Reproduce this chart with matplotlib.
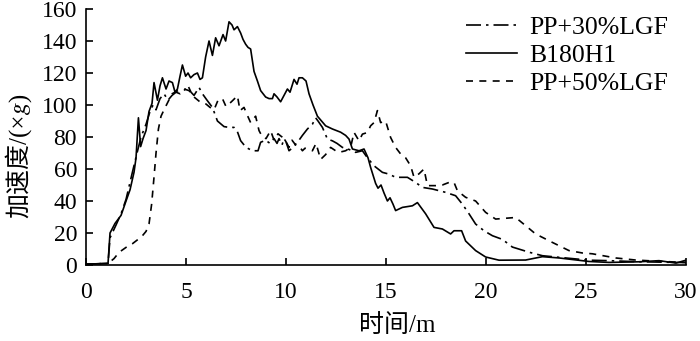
import matplotlib
matplotlib.use("Agg")
import matplotlib.pyplot as plt

plt.rcParams['font.family'] = ['Liberation Serif', 'Noto Sans CJK SC', 'STIXGeneral', 'DejaVu Sans']

# ---------------- data ----------------
b180h1_x = [0, 1.1, 1.2, 1.45, 1.75, 2.0, 2.2, 2.4, 2.5, 2.62,
            2.73, 2.85, 3.0, 3.15, 3.3, 3.4, 3.57, 3.7, 3.82, 4.0,
            4.15, 4.32, 4.45, 4.57, 4.7, 4.82, 4.98, 5.1, 5.23, 5.4,
            5.57, 5.7, 5.82, 5.98, 6.15, 6.32, 6.48, 6.65, 6.85, 6.98,
            7.15, 7.3, 7.4, 7.57, 7.73, 7.85, 7.98, 8.1, 8.23, 8.4,
            8.57, 8.73, 8.98, 9.15, 9.32, 9.4, 9.55, 9.73, 9.9, 10.07,
            10.2, 10.4, 10.55, 10.65, 10.82, 11.0, 11.15, 11.35, 11.57, 11.98,
            12.32, 12.73, 12.98, 13.15, 13.32, 13.65, 13.9, 14.1, 14.23, 14.48,
            14.6, 14.75, 14.9, 15.07, 15.2, 15.35, 15.48, 15.82, 16.32, 16.57,
            16.98, 17.4, 17.82, 18.23, 18.4, 18.78, 18.98, 19.48, 19.98, 20.65,
            21.98, 22.82, 23.65, 25.15, 26.15, 27.65, 28.65, 29.5, 30.0]
b180h1_y = [0.5, 1, 20, 26, 31, 40, 47, 58, 67, 92,
            74, 79, 84, 96, 101, 114, 103, 112, 117, 110,
            115, 114, 108, 110, 118, 125, 118, 120, 117, 119,
            120, 116, 117, 130, 140, 131, 142, 137, 144, 140,
            152, 150, 147, 149, 145, 141, 138, 136, 135, 121,
            115, 109, 105, 104, 104, 107, 105, 102, 106, 110,
            108, 116, 113, 117, 117, 115, 107, 100, 93, 87,
            85, 83, 81, 78.7, 72.5, 71.4, 72.5, 67, 61, 51,
            48, 50, 45, 40, 42, 38, 34, 36, 37, 39,
            32, 23.5, 22.5, 19.4, 21.4, 21.4, 15, 9, 5, 3,
            3.1, 5.2, 4.4, 2.2, 1.6, 2, 2.7, 1.2, 3]

pp30_x = [0, 1.1, 1.2, 1.5, 1.75, 2.0, 2.3, 2.55, 2.75, 3.0,
          3.2, 3.35, 3.5, 3.7, 3.9, 4.1, 4.3, 4.5, 4.7, 4.9,
          5.1, 5.25, 5.4, 5.65, 5.82, 6.05, 6.32, 6.57, 6.9, 7.15,
          7.4, 7.55, 7.73, 8.0, 8.32, 8.6, 8.73, 8.98, 9.2, 9.4,
          9.55, 9.65, 9.8, 9.9, 10.0, 10.15, 10.3, 10.48, 10.65, 10.82,
          11.07, 11.32, 11.48, 11.6, 11.82, 12.07, 12.32, 12.55, 12.82, 13.1,
          13.48, 13.82, 14.07, 14.4, 14.82, 15.15, 15.48, 16.07, 16.48, 16.82,
          17.32, 17.98, 18.48, 18.82, 19.15, 19.48, 19.9, 20.32, 20.82, 21.32,
          22.15, 22.82, 23.98, 25.15, 26.15, 27.65, 28.65, 30.0]
pp30_y = [0.5, 1, 17, 25, 32, 41, 57, 70, 80, 88,
          96, 100, 97, 104, 107, 103, 106, 108, 107, 109,
          112, 108, 106, 111, 107, 103, 98.5, 90, 86.5, 86,
          86, 84, 77.7, 73.5, 71.4, 71.4, 76.7, 78, 76, 79,
          76, 79, 75, 79, 77, 71.4, 73, 75.5, 78, 81,
          85, 88, 92, 90, 86, 78.7, 77.6, 76, 73.5, 72.5,
          70.4, 71.4, 67, 62, 57.9, 56.8, 54.8, 54.8, 51.6, 48.5,
          47.5, 45.4, 43.3, 38, 32, 25.6, 21.4, 18.3, 16, 11.2,
          8, 5.8, 4.4, 3, 2.7, 2, 1.8, 1.5]

pp50_x = [0, 1.1, 1.4, 1.65, 2.0, 2.32, 2.6, 2.82, 3.0, 3.15,
          3.28, 3.4, 3.5, 3.62, 3.75, 3.9, 4.1, 4.3, 4.6, 4.9,
          5.15, 5.4, 5.73, 6.0, 6.2, 6.4, 6.6, 6.82, 7.0, 7.15,
          7.35, 7.57, 7.7, 7.9, 8.05, 8.23, 8.48, 8.65, 8.82, 9.0,
          9.23, 9.4, 9.6, 9.8, 10.0, 10.15, 10.3, 10.48, 10.65, 10.82,
          10.95, 11.15, 11.32, 11.5, 11.73, 11.98, 12.23, 12.48, 12.65, 12.98,
          13.23, 13.4, 13.65, 13.82, 14.07, 14.23, 14.4, 14.57, 14.73, 14.98,
          15.23, 15.48, 15.73, 15.98, 16.23, 16.4, 16.65, 16.9, 17.07, 17.48,
          17.82, 18.15, 18.4, 18.57, 18.98, 19.48, 19.98, 20.48, 21.48, 21.98,
          22.48, 23.32, 24.15, 24.82, 25.32, 26.48, 27.48, 28.65, 30.0]
pp50_y = [0.5, 1, 4, 7.9, 11, 13.3, 16, 18.3, 21, 25.7,
          38, 55, 70, 85, 93, 97, 102, 107, 109, 110,
          109, 105, 101.6, 100.6, 98.5, 97, 103, 104, 99, 100.6,
          103, 105.8, 96.5, 98.5, 94, 89, 93, 84, 80, 79,
          84, 78, 82, 80, 77, 73.5, 78, 75, 74.5, 71.4,
          73, 72, 71.4, 76, 66, 69, 73.5, 71.4, 70.4, 71.4,
          73.5, 82.9, 77.6, 81.8, 82.8, 87, 89, 96.5, 89, 90,
          79.7, 73.5, 69.4, 67, 62, 54.8, 57, 60, 49.6, 49.6,
          50, 51.6, 51.6, 46.4, 42.3, 40, 32.9, 28.7, 29.7, 24.6,
          19.4, 14.1, 9, 7.5, 7, 4.4, 3.1, 2.3, 1.6]

labels = ['PP+30%LGF', 'B180H1', 'PP+50%LGF']
x_ticks = [0, 5, 10, 15, 20, 25, 30]
y_ticks = [0, 20, 40, 60, 80, 100, 120, 140, 160]
x_label = '时间/m'
y_label = '加速度/(×\U0001D454)'

# ---------------- plot ----------------
fig = plt.figure(figsize=(7.0, 3.41), dpi=100)
ax = fig.add_axes([0.1229, 0.2229, 0.8571, 0.7507])

lw = 1.2
ax.plot(pp30_x, pp30_y, color='black', lw=lw, linestyle=(0, (9, 3, 1.5, 3)), label=labels[0])
ax.plot(b180h1_x, b180h1_y, color='black', lw=lw, linestyle='-', label=labels[1])
ax.plot(pp50_x, pp50_y, color='black', lw=lw, linestyle=(0, (4.2, 3.8)), label=labels[2])

ax.set_xlim(0, 30)
ax.set_ylim(0, 160)
ax.set_xticks(x_ticks)
ax.set_yticks(y_ticks)
ax.spines['top'].set_visible(False)
ax.spines['right'].set_visible(False)
for s in ('left', 'bottom'):
    ax.spines[s].set_linewidth(1.2)
ax.tick_params(direction='in', length=5, width=1.2, labelsize=17)
ax.tick_params(axis='y', pad=6.5)
ax.tick_params(axis='x', pad=12)

ax.set_xlabel(x_label, fontsize=18)
ax.xaxis.set_label_coords(0.518, -0.19)
ax.set_ylabel(y_label, fontsize=18)
ax.yaxis.set_label_coords(-0.092, 0.43)

leg = ax.legend(loc='upper right', bbox_to_anchor=(0.97, 0.973), frameon=False,
                fontsize=18.5, handlelength=2.0, handletextpad=0.47,
                labelspacing=0.2, borderpad=0, borderaxespad=0)

fig.savefig('out.png', dpi=100)
